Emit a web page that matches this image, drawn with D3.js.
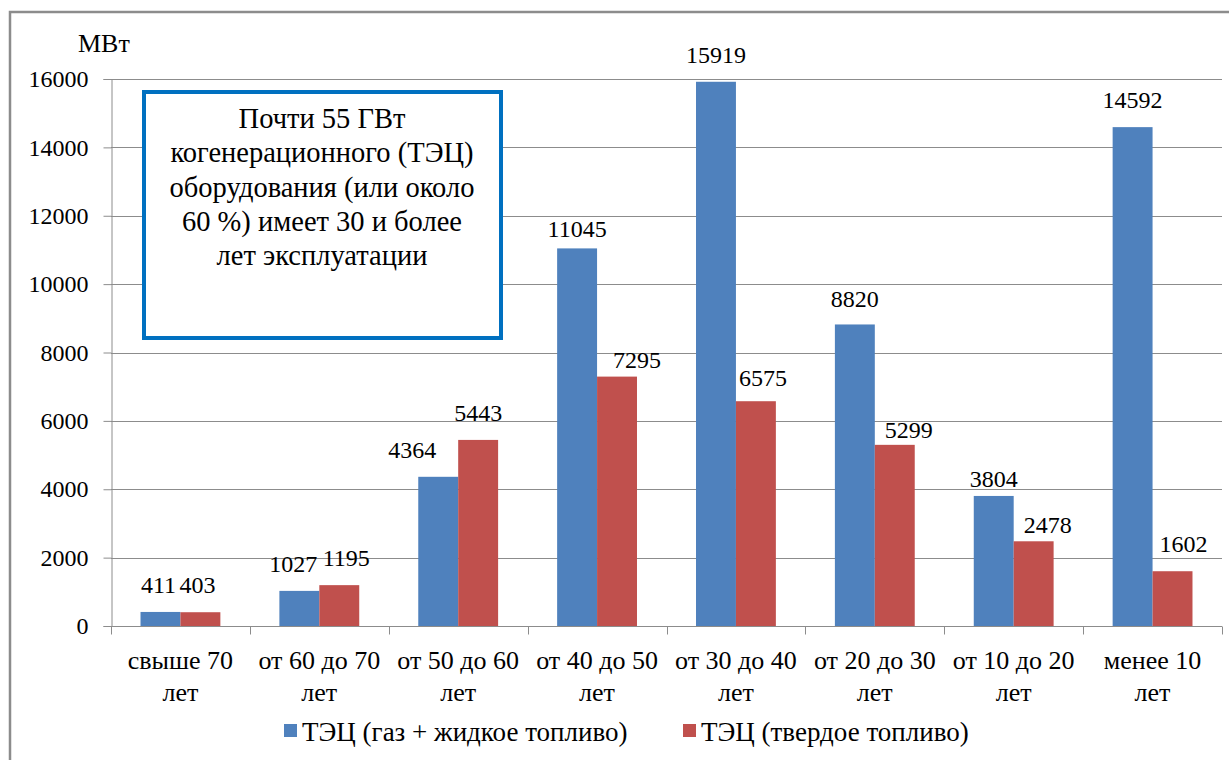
<!DOCTYPE html>
<html><head><meta charset="utf-8">
<script src="https://cdn.jsdelivr.net/npm/d3@7/dist/d3.min.js"></script>
<style>body{margin:0;background:#fff}svg{display:block}svg text{font-family:"Liberation Serif","Tinos","Noto Serif","FreeSerif","Nimbus Roman","Times New Roman","DejaVu Serif",serif !important}</style>
</head><body>
<svg id="c" width="1229" height="760"></svg>
<script>
const categories = [["свыше 70","лет"],["от 60 до 70","лет"],["от 50 до 60","лет"],["от 40 до 50","лет"],["от 30 до 40","лет"],["от 20 до 30","лет"],["от 10 до 20","лет"],["менее 10","лет"]];
const gasLiquid = [411, 1027, 4364, 11045, 15919, 8820, 3804, 14592];
const solid = [403, 1195, 5443, 7295, 6575, 5299, 2478, 1602];
const seriesNames = ["ТЭЦ (газ + жидкое топливо)", "ТЭЦ (твердое топливо)"];
const colors = ["#4F81BD", "#C0504D"];
const yTicks = [0, 2000, 4000, 6000, 8000, 10000, 12000, 14000, 16000];
const calloutLines = ["Почти 55 ГВт", "когенерационного (ТЭЦ)", "оборудования (или около", "60 %) имеет 30 и более", "лет эксплуатации"];

const svg = d3.select("#c");
const FS = 26, NS = 24;
// outer frame
svg.append("rect").attr("x",10).attr("y",12).attr("width",1240).attr("height",760).attr("fill","none").attr("stroke","#8c8c8c").attr("stroke-width",2.5);

const L=111, R=1222, T=79, B=626;
const x = d3.scaleBand().domain(d3.range(categories.length)).range([L,R]).paddingInner(0).paddingOuter(0);
const y = d3.scaleLinear().domain([0,16000]).range([B,T]);
const inner = 0.425; // gap fraction of category
const bw = x.bandwidth()*(1-inner)/2;

// gridlines
svg.append("g").selectAll("line").data(yTicks.filter(d=>d>0)).join("line")
  .attr("x1",L).attr("x2",R).attr("y1",d=>Math.round(y(d))+0.5).attr("y2",d=>Math.round(y(d))+0.5)
  .attr("stroke","#8c8c8c").attr("stroke-width",1);

// y axis
const ya = svg.append("g").attr("transform",`translate(${L+0.5},0)`).call(d3.axisLeft(y).tickValues(yTicks).tickSize(8).tickPadding(15).tickFormat(d=>String(d)));
ya.attr("font-family",null).attr("font-size",null);
ya.select(".domain").attr("stroke","#8c8c8c");
ya.selectAll(".tick line").attr("stroke","#8c8c8c");
ya.selectAll(".tick text").attr("font-size",NS).attr("fill","#000");

// bars
const all = [gasLiquid, solid];
// manual label nudges seen in the reference (dx, dy relative to default outside-end placement)
const nudge = [[[ -2,0],[-6,0],[-26,0],[0,8],[0,0],[0,2],[0,10],[0,0]],
               [[-3,0],[7,0],[0,0],[20,10],[7,4],[14,12],[14,11],[11,0]]];
all.forEach((vals,si)=>{
  svg.append("g").selectAll("rect").data(vals).join("rect")
    .attr("x",(d,i)=>x(i)+x.bandwidth()*inner/2+si*bw)
    .attr("width",bw)
    .attr("y",d=>y(d)).attr("height",d=>B-y(d))
    .attr("fill",colors[si]);
  svg.append("g").selectAll("text").data(vals).join("text")
    .attr("x",(d,i)=>x(i)+x.bandwidth()*inner/2+si*bw+bw/2+nudge[si][i][0])
    .attr("y",(d,i)=>y(d)-19+nudge[si][i][1])
    .attr("text-anchor","middle").attr("font-size",NS).attr("fill","#000")
    .text(d=>d);
});

// x axis
const xa = svg.append("g").attr("transform",`translate(0,${B+0.5})`);
xa.append("line").attr("x1",L).attr("x2",R).attr("stroke","#8c8c8c");
xa.selectAll("line.t").data(d3.range(categories.length+1)).join("line").attr("class","t")
  .attr("x1",i=>Math.round(L+i*x.step())+0.5).attr("x2",i=>Math.round(L+i*x.step())+0.5).attr("y1",0).attr("y2",8).attr("stroke","#8c8c8c");
const xl = xa.selectAll("text").data(categories).join("text")
  .attr("text-anchor","middle").attr("font-size",FS).attr("fill","#000");
xl.each(function(d,i){
  const t=d3.select(this);
  d.forEach((line,j)=>t.append("tspan").attr("x",x(i)+x.bandwidth()/2).attr("y",42+j*32).text(line));
});

// y unit label
svg.append("text").attr("x",78).attr("y",52).attr("font-size",FS).attr("fill","#000").text("МВт");

// callout
svg.append("rect").attr("x",144).attr("y",92).attr("width",357).attr("height",246).attr("fill","#fff").attr("stroke","#0070C0").attr("stroke-width",4);
svg.append("g").selectAll("text").data(calloutLines).join("text")
  .attr("x",322).attr("y",(d,i)=>128+i*34.3).attr("text-anchor","middle").attr("font-size",28.5).attr("fill","#000").text(d=>d);

// legend
const lg = svg.append("g");
const legendX = [284, 683];
seriesNames.forEach((n,i)=>{
  lg.append("rect").attr("x",legendX[i]).attr("y",724).attr("width",13).attr("height",13).attr("fill",colors[i]);
  lg.append("text").attr("x",legendX[i]+18).attr("y",741).attr("font-size",27).attr("fill","#000").text(n);
});
</script>
</body></html>
